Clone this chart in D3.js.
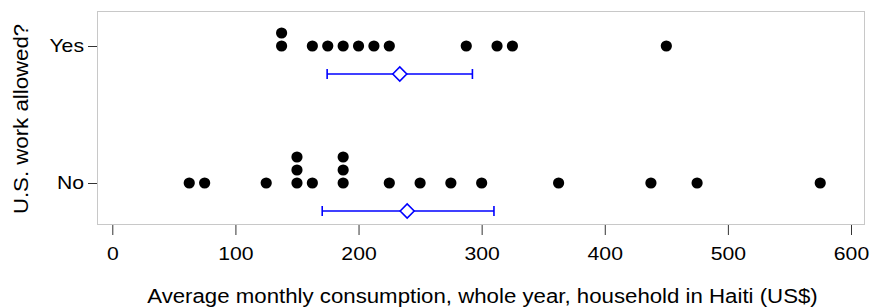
<!DOCTYPE html>
<html>
<head>
<meta charset="utf-8">
<script src="https://cdn.jsdelivr.net/npm/d3@7"></script>
<style>
  body { margin: 0; background: #fff; }
  text { font-family: "Liberation Sans", Arial, sans-serif; fill: #000; }
</style>
</head>
<body>
<svg id="chart" width="871" height="308"></svg>
<script>
// data
const groups = ['Yes', 'No'];
const yesValues = [137.5, 137.5, 162.5, 175, 187.5, 200, 212.5, 225, 287.5, 312.5, 325, 450];
const noValues = [62.5, 75, 125, 150, 150, 150, 162.5, 187.5, 187.5, 187.5, 225, 250, 275, 300, 362.5, 437.5, 475, 575];
const meanValues = [233.5, 239.5];
const ciLow = [174.5, 170.5];
const ciHigh = [292.5, 310];
const xTicks = [0, 100, 200, 300, 400, 500, 600];

const svg = d3.select('#chart');
const frame = {left: 97, right: 864, top: 11, bottom: 224};
const FONT = '"Liberation Sans", Arial, sans-serif';
const stretch = 1.14; // the original text is a bit wider than Liberation Sans

const x = d3.scaleLinear().domain([0, 600]).range([112.3, 851]);
const y = d3.scalePoint().domain(groups).range([46, 183]);
const stackGap = 13;
const ciOffset = 28;

// frame
svg.append('rect')
  .attr('x', frame.left + 0.5).attr('y', frame.top + 0.5)
  .attr('width', frame.right - frame.left).attr('height', frame.bottom - frame.top)
  .attr('fill', 'none').attr('stroke', '#c8c8c8').attr('stroke-width', 1);

// x axis
const xAxis = svg.append('g')
  .attr('transform', 'translate(0,' + (frame.bottom + 1) + ')')
  .call(d3.axisBottom(x).tickValues(xTicks).tickSize(10).tickPadding(12));
xAxis.select('.domain').remove();
xAxis.selectAll('.tick line').attr('stroke', '#333');
xAxis.selectAll('.tick text').attr('font-size', 18.6).attr('font-family', FONT);

svg.append('text')
  .attr('x', 482.5).attr('y', 303)
  .attr('text-anchor', 'middle').attr('font-size', 19.5)
  .text('Average monthly consumption, whole year, household in Haiti (US$)');

// y axis
const yAxis = svg.append('g')
  .attr('transform', 'translate(' + frame.left + ',0)')
  .call(d3.axisLeft(y).tickSize(9).tickPadding(4));
yAxis.select('.domain').remove();
yAxis.selectAll('.tick line').attr('stroke', '#333');
yAxis.selectAll('.tick text').attr('font-size', 18.6).attr('font-family', FONT);

svg.append('text')
  .attr('transform', 'translate(27.5,119) rotate(-90)')
  .attr('text-anchor', 'middle').attr('font-size', 19.5)
  .text('U.S. work allowed?');

// widen all text a little
svg.selectAll('text').each(function() {
  const w = this.getComputedTextLength();
  d3.select(this).attr('textLength', w * stretch).attr('lengthAdjust', 'spacingAndGlyphs');
});

// stacked dots
function stack(values, group) {
  const counts = {};
  return values.map(v => {
    const k = counts[v] || 0;
    counts[v] = k + 1;
    return {value: v, group: group, level: k};
  });
}
const dots = stack(yesValues, 'Yes').concat(stack(noValues, 'No'));

svg.append('g').selectAll('circle')
  .data(dots)
  .enter().append('circle')
  .attr('cx', d => x(d.value))
  .attr('cy', d => y(d.group) - d.level * stackGap)
  .attr('r', 5.6)
  .attr('fill', '#000');

// mean and interval
const ci = groups.map((g, i) => ({group: g, mean: meanValues[i], lo: ciLow[i], hi: ciHigh[i]}));
const ciG = svg.append('g').attr('stroke', '#0000ff').attr('stroke-width', 1.6).attr('fill', 'none');

ciG.selectAll('.ci-line').data(ci).enter().append('line')
  .attr('x1', d => x(d.lo)).attr('x2', d => x(d.hi))
  .attr('y1', d => y(d.group) + ciOffset).attr('y2', d => y(d.group) + ciOffset);
ciG.selectAll('.cap-lo').data(ci).enter().append('line')
  .attr('x1', d => x(d.lo)).attr('x2', d => x(d.lo))
  .attr('y1', d => y(d.group) + ciOffset - 5).attr('y2', d => y(d.group) + ciOffset + 5);
ciG.selectAll('.cap-hi').data(ci).enter().append('line')
  .attr('x1', d => x(d.hi)).attr('x2', d => x(d.hi))
  .attr('y1', d => y(d.group) + ciOffset - 5).attr('y2', d => y(d.group) + ciOffset + 5);
ciG.selectAll('.mean').data(ci).enter().append('path')
  .attr('d', d => {
    const cx = x(d.mean), cy = y(d.group) + ciOffset;
    return 'M' + (cx - 7) + ',' + cy + 'L' + cx + ',' + (cy - 7) + 'L' + (cx + 7) + ',' + cy + 'L' + cx + ',' + (cy + 7) + 'Z';
  })
  .attr('fill', '#fff');
</script>
</body>
</html>
